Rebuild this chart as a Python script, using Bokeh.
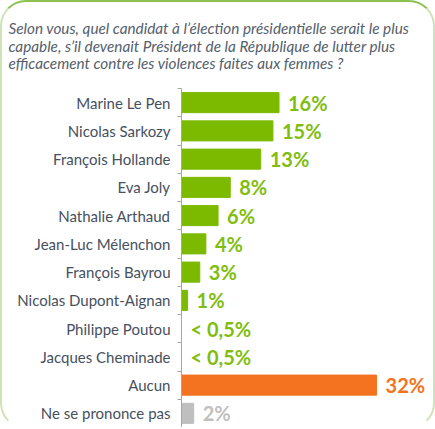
from bokeh.plotting import figure
from bokeh.models import (Range1d, LinearAxis, FixedTicker, Title, ColumnDataSource)
from bokeh.embed import file_html
from bokeh.resources import INLINE
from bokeh.core.properties import value

question_lines = [
    "Selon vous, quel candidat à l\u2019élection présidentielle serait le plus",
    "capable, s\u2019il devenait Président de la République de lutter plus",
    "efficacement contre les violences faites aux femmes ?",
]
candidates = ["Marine Le Pen", "Nicolas Sarkozy", "François Hollande", "Eva Joly",
              "Nathalie Arthaud", "Jean-Luc Mélenchon", "François Bayrou",
              "Nicolas Dupont-Aignan", "Philippe Poutou", "Jacques Cheminade",
              "Aucun", "Ne se prononce pas"]
shares = [16, 15, 13, 8, 6, 4, 3, 1, 0, 0, 32, 2]
share_labels = ["16%", "15%", "13%", "8%", "6%", "4%", "3%", "1%",
                "< 0,5%", "< 0,5%", "32%", "2%"]

GREEN = "#7cba00"
bar_colors = [GREEN] * 10 + ["#f47321", "#bfbfbf"]
text_colors = ["#80bd10"] * 10 + ["#f47321", "#c0c0c0"]

n = len(candidates)
rows = [n - 0.5 - i for i in range(n)]          # row centres, first on top
bounds = list(range(n + 1))                     # row boundaries

W, H = 435, 429
BORDER = 2
LEFT, TOP, BOTTOM = 179, 86, 4
frame_w = W - 2 * BORDER - LEFT

p = figure(width=W, height=H, output_backend="svg", toolbar_location=None,
           title=None,
           y_range=Range1d(0, n), x_range=Range1d(0, frame_w / 6.0),
           x_axis_location=None, y_axis_location=None,
           min_border_left=LEFT, min_border_right=0,
           min_border_top=TOP, min_border_bottom=BOTTOM,
           styles={"box-sizing": "border-box",
                   "border": "2px solid #b9d98e",
                   "border-top-color": "#8cc152",
                   "border-left-color": "#cfe3b5",
                   "border-right-color": "#cfe3b5",
                   "border-bottom-color": "transparent",
                   "border-radius": "26px"})
p.outline_line_color = None
p.xgrid.visible = False
p.ygrid.visible = False
p.background_fill_color = None
p.border_fill_color = None

src = ColumnDataSource(dict(row=rows, share=shares, lab=share_labels,
                            color=bar_colors, tcolor=text_colors))
p.hbar(y="row", right="share", left=0, height=0.71, color="color", source=src)
p.text(x="share", y="row", text="lab", text_color="tcolor", source=src,
       x_offset=9, text_baseline="middle", text_align="left",
       text_font=value("Lato"), text_font_style="bold", text_font_size="20px")

axis = LinearAxis(ticker=FixedTicker(ticks=rows, minor_ticks=bounds),
                  major_label_overrides={r: c for r, c in zip(rows, candidates)},
                  axis_line_color="#a6a6a6",
                  major_tick_line_color=None, major_tick_out=0, major_tick_in=0,
                  minor_tick_line_color="#a6a6a6", minor_tick_out=4, minor_tick_in=0,
                  major_label_text_font="Lato",
                  major_label_text_font_size="15px",
                  major_label_text_color="#46505e",
                  major_label_standoff=7)
p.add_layout(axis, "left")

# spacer between the question and the plot
p.add_layout(Title(text=" ", text_font_size="1px", standoff=15), "above")
# question text, bottom line first (closest to the plot)
standoffs = [0, -3, -3.5]
for line, so in reversed(list(zip(question_lines, standoffs))):
    p.add_layout(Title(text=line, align="left", offset=8 - (LEFT + BORDER),
                       standoff=so, text_font="Lato", text_font_style="italic",
                       text_font_size="15.3px", text_line_height=1.0,
                       text_color="#55606c"), "above")

open("out.html", "w").write(file_html(p, INLINE))
